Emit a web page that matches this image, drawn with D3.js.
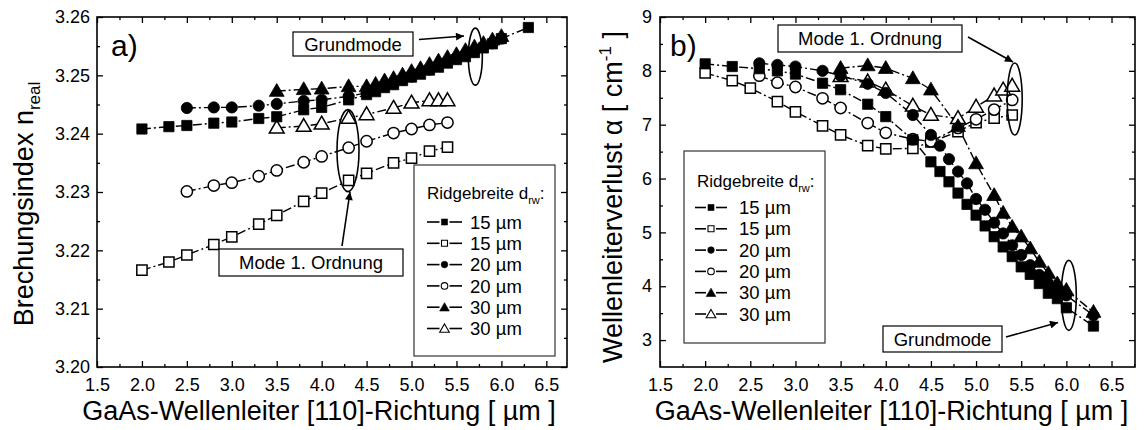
<!DOCTYPE html>
<html><head><meta charset="utf-8">
<script src="https://cdn.jsdelivr.net/npm/d3@7"></script>
<style>
body{margin:0;background:#fff}
svg{display:block}
text{font-family:"Liberation Sans",Arial,Helvetica,sans-serif;fill:#000}
</style>
</head><body>
<svg id="c" width="1148" height="430"></svg>
<script>
// ---------------- data ----------------
const xTickValues = [1.5, 2.0, 2.5, 3.0, 3.5, 4.0, 4.5, 5.0, 5.5, 6.0, 6.5];
const xMinorTicks = [1.75, 2.25, 2.75, 3.25, 3.75, 4.25, 4.75, 5.25, 5.75, 6.25, 6.75];
const nTickValues = [3.20, 3.21, 3.22, 3.23, 3.24, 3.25, 3.26];
const nMinorTicks = [3.205, 3.215, 3.225, 3.235, 3.245, 3.255];
const aTickValues = [3, 4, 5, 6, 7, 8, 9];
const aMinorTicks = [3.5, 4.5, 5.5, 6.5, 7.5, 8.5];
const legendLabels = ["15 µm", "15 µm", "20 µm", "20 µm", "30 µm", "30 µm"];

// panel a) : real refractive index
const nSq15X = [2.0,2.3,2.5,2.8,3.0,3.3,3.5,3.8,4.0,4.3,4.5,4.6,4.7,4.8,4.9,5.0,5.1,5.2,5.3,5.4,5.5,5.6,5.7,5.8,5.9,6.0,6.3];
const nSq15Y = [3.2408,3.2412,3.2414,3.2418,3.2420,3.2426,3.2429,3.2441,3.2445,3.2458,3.2467,3.2472,3.2479,3.2484,3.2491,3.2497,3.2502,3.2509,3.2514,3.2521,3.2527,3.2532,3.2539,3.2547,3.2554,3.2563,3.2582];
const nSqO15X = [2.0,2.3,2.5,2.8,3.0,3.3,3.5,3.8,4.0,4.3,4.5,4.8,5.0,5.2,5.4];
const nSqO15Y = [3.2166,3.2180,3.2192,3.2210,3.2223,3.2245,3.2260,3.2284,3.2298,3.2320,3.2332,3.2350,3.2358,3.2370,3.2377];
const nCi20X = [2.5,2.8,3.0,3.3,3.5,3.8,4.0,4.3,4.5,4.6,4.7,4.8,4.9,5.0,5.1,5.2,5.3,5.4,5.5,5.6,5.7,5.8,5.9,6.0];
const nCi20Y = [3.2444,3.2445,3.2445,3.2448,3.2451,3.2456,3.2458,3.2464,3.2470,3.2475,3.2481,3.2486,3.2493,3.2498,3.2505,3.2510,3.2517,3.2523,3.2529,3.2535,3.2541,3.2549,3.2555,3.2563];
const nCiO20X = [2.5,2.8,3.0,3.3,3.5,3.8,4.0,4.3,4.5,4.8,5.0,5.2,5.4];
const nCiO20Y = [3.2301,3.2311,3.2316,3.2327,3.2337,3.2351,3.2361,3.2376,3.2387,3.2401,3.2408,3.2415,3.2419];
const nTr30X = [3.5,3.8,4.0,4.3,4.5,4.6,4.7,4.8,4.9,5.0,5.1,5.2,5.3,5.4,5.5,5.6,5.7,5.8,5.9,6.0];
const nTr30Y = [3.2473,3.2476,3.2477,3.2481,3.2481,3.2485,3.2491,3.2495,3.2501,3.2507,3.2512,3.2519,3.2525,3.2531,3.2536,3.2543,3.2549,3.2555,3.2561,3.2567];
const nTrO30X = [3.5,3.8,4.0,4.3,4.5,4.8,5.0,5.2,5.3,5.4];
const nTrO30Y = [3.2410,3.2413,3.2417,3.2427,3.2433,3.2444,3.2453,3.2457,3.2457,3.2457];

// panel b) : waveguide loss alpha
const aSq15X = [2.0,2.3,2.6,2.8,3.0,3.3,3.5,3.8,4.0,4.3,4.5,4.6,4.7,4.8,4.9,5.0,5.1,5.2,5.3,5.4,5.5,5.6,5.7,5.8,5.9,6.0,6.3];
const aSq15Y = [8.13,8.08,8.04,8.00,7.94,7.77,7.65,7.38,7.15,6.72,6.31,6.13,5.94,5.73,5.52,5.32,5.12,4.92,4.73,4.55,4.36,4.22,4.05,3.87,3.77,3.60,3.26];
const aSqO15X = [2.0,2.3,2.5,2.8,3.0,3.3,3.5,3.8,4.0,4.3,4.5,4.8,5.0,5.2,5.4];
const aSqO15Y = [7.96,7.82,7.68,7.43,7.24,6.98,6.81,6.61,6.55,6.56,6.68,6.87,7.04,7.12,7.18];
const aCi20X = [2.6,2.8,3.0,3.3,3.5,3.8,4.0,4.3,4.5,4.6,4.7,4.8,4.9,5.0,5.1,5.2,5.3,5.4,5.5,5.6,5.7,5.8,5.9,6.0,6.3];
const aCi20Y = [8.14,8.11,8.08,8.00,7.91,7.76,7.59,7.18,6.81,6.61,6.36,6.13,5.91,5.62,5.42,5.18,4.98,4.76,4.58,4.39,4.21,4.05,3.93,3.83,3.46];
const aCiO20X = [2.6,2.8,3.0,3.3,3.5,3.8,4.0,4.3,4.5,4.8,5.0,5.2,5.4];
const aCiO20Y = [7.91,7.78,7.70,7.49,7.31,7.03,6.85,6.73,6.69,6.94,7.10,7.28,7.46];
const aTr30X = [3.5,3.8,4.0,4.3,4.5,4.8,5.0,5.2,5.3,5.4,5.5,5.6,5.7,5.8,5.9,6.0,6.3];
const aTr30Y = [8.05,8.10,8.05,7.86,7.65,6.97,6.28,5.69,5.36,5.10,4.92,4.70,4.45,4.24,4.05,3.93,3.52];
const aTrO30X = [3.5,3.8,4.0,4.3,4.5,4.8,5.0,5.2,5.3,5.4];
const aTrO30Y = [7.90,7.80,7.65,7.35,7.18,7.12,7.33,7.54,7.65,7.72];

// ---------------- drawing ----------------
const svg = d3.select("#c");
const FONT = '"Liberation Sans",Arial,Helvetica,sans-serif';

const defs = svg.append("defs");
defs.append("marker").attr("id","arr").attr("viewBox","0 0 10 10")
  .attr("refX",10).attr("refY",5).attr("markerWidth",12).attr("markerHeight",8)
  .attr("markerUnits","userSpaceOnUse").attr("orient","auto")
  .append("path").attr("d","M0,0 L10,5 L0,10 Z").attr("fill","#000");

const symType = {sq: d3.symbolSquare, ci: d3.symbolCircle, tr: d3.symbolTriangle};
const symSize = {sq: 105, ci: 100, tr: 95};
const legSize = {sq: 36, ci: 34, tr: 40};

function makeSeries(X, Y, shape, filled){ return {pts: X.map((x,i)=>[x, Y[i]]), shape, filled}; }

function drawPanel(cfg){
  const g = svg.append("g");
  const x = d3.scaleLinear().domain(cfg.xDomain).range(cfg.xRange);
  const y = d3.scaleLinear().domain(cfg.yDomain).range(cfg.yRange);
  const [x0,x1] = cfg.xRange, [y0,y1] = [cfg.yRange[1], cfg.yRange[0]];

  function styleAxis(sel){
    sel.select(".domain").remove();
    sel.selectAll("line").attr("stroke","#000").attr("stroke-width",1.3);
    sel.attr("font-size",18).attr("font-family",FONT);
    sel.selectAll("text").attr("fill","#000");
  }
  const xm = xMinorTicks.filter(v=>v<cfg.xDomain[1]);
  g.append("g").attr("transform",`translate(0,${y1})`)
    .call(d3.axisBottom(x).tickValues(xTickValues).tickSizeInner(-6).tickSizeOuter(0).tickPadding(11).tickFormat(d3.format(".1f"))).call(styleAxis);
  g.append("g").attr("transform",`translate(0,${y1})`)
    .call(d3.axisBottom(x).tickValues(xm).tickSizeInner(-3).tickSizeOuter(0).tickFormat("")).call(styleAxis);
  g.append("g").attr("transform",`translate(0,${y0})`)
    .call(d3.axisTop(x).tickValues(xTickValues).tickSizeInner(-6).tickSizeOuter(0).tickFormat("")).call(styleAxis);
  g.append("g").attr("transform",`translate(0,${y0})`)
    .call(d3.axisTop(x).tickValues(xm).tickSizeInner(-3).tickSizeOuter(0).tickFormat("")).call(styleAxis);
  g.append("g").attr("transform",`translate(${x0},0)`)
    .call(d3.axisLeft(y).tickValues(cfg.yTicks).tickSizeInner(-6).tickSizeOuter(0).tickPadding(cfg.yPad).tickFormat(cfg.yFmt)).call(styleAxis);
  g.append("g").attr("transform",`translate(${x0},0)`)
    .call(d3.axisLeft(y).tickValues(cfg.yMinor).tickSizeInner(-3).tickSizeOuter(0).tickFormat("")).call(styleAxis);
  g.append("g").attr("transform",`translate(${x1},0)`)
    .call(d3.axisRight(y).tickValues(cfg.yTicks).tickSizeInner(-6).tickSizeOuter(0).tickFormat("")).call(styleAxis);
  g.append("g").attr("transform",`translate(${x1},0)`)
    .call(d3.axisRight(y).tickValues(cfg.yMinor).tickSizeInner(-3).tickSizeOuter(0).tickFormat("")).call(styleAxis);

  g.append("rect").attr("x",x0).attr("y",y0).attr("width",x1-x0).attr("height",y1-y0)
    .attr("fill","none").attr("stroke","#000").attr("stroke-width",1.6);

  const line = d3.line().x(d=>x(d[0])).y(d=>y(d[1]));
  cfg.series.forEach(s=>{
    g.append("path").datum(s.pts).attr("d",line).attr("fill","none")
      .attr("stroke","#000").attr("stroke-width",1.4).attr("stroke-dasharray","9,3,2,3");
  });
  cfg.series.forEach(s=>{
    g.append("g").selectAll("path").data(s.pts).join("path")
      .attr("transform",d=>`translate(${x(d[0])},${y(d[1]) + (s.shape==="tr"?1:0)})`)
      .attr("d",d3.symbol().type(symType[s.shape]).size(symSize[s.shape]))
      .attr("fill",s.filled?"#000":"#fff").attr("stroke","#000").attr("stroke-width",s.filled?0.8:1.5);
  });

  g.append("text").attr("x",cfg.label[1]).attr("y",cfg.label[2]).attr("font-size",30).text(cfg.label[0]);

  g.append("text").attr("x",(x0+x1)/2 + cfg.xTitleDx).attr("y",420).attr("text-anchor","middle")
    .attr("font-size",27).text("GaAs-Wellenleiter [110]-Richtung [ µm ]");
  const yt = g.append("text").attr("transform",`translate(${cfg.yTitleX},${cfg.yTitleY}) rotate(-90)`)
    .attr("text-anchor","middle").attr("font-size",27);
  cfg.yTitle(yt);

  const L = cfg.legend;
  g.append("rect").attr("x",L.x).attr("y",L.y).attr("width",L.w).attr("height",L.h)
    .attr("fill","#fff").attr("stroke","#333").attr("stroke-width",1.2);
  const lt = g.append("text").attr("x",L.tx).attr("y",L.ty).attr("font-size",17);
  lt.append("tspan").text("Ridgebreite d");
  lt.append("tspan").attr("font-size",11).attr("dy",5).text("rw");
  lt.append("tspan").attr("dy",-5).text(":");
  const legendShapes = [["sq",true],["sq",false],["ci",true],["ci",false],["tr",true],["tr",false]];
  legendShapes.forEach((sh,i)=>{
    const yy = L.iy + i*L.step;
    const mx = (L.lx0+L.lx1)/2;
    g.append("line").attr("x1",L.lx0).attr("x2",mx-5).attr("y1",yy).attr("y2",yy)
      .attr("stroke","#000").attr("stroke-width",1.6);
    g.append("line").attr("x1",mx+5).attr("x2",L.lx1).attr("y1",yy).attr("y2",yy)
      .attr("stroke","#000").attr("stroke-width",1.6);
    g.append("path").attr("transform",`translate(${mx},${yy + (sh[0]==="tr"?1:0)})`)
      .attr("d",d3.symbol().type(symType[sh[0]]).size(legSize[sh[0]]))
      .attr("fill",sh[1]?"#000":"#fff").attr("stroke","#000").attr("stroke-width",sh[1]?0.6:1.1);
    g.append("text").attr("x",L.textX).attr("y",yy).attr("dy","0.36em").attr("font-size",18.5).text(legendLabels[i]);
  });

  cfg.notes.forEach(n=>{
    g.append("rect").attr("x",n.box[0]).attr("y",n.box[1]).attr("width",n.box[2]).attr("height",n.box[3])
      .attr("fill","#fff").attr("stroke","#000").attr("stroke-width",1.2);
    g.append("text").attr("x",n.box[0]+n.box[2]/2).attr("y",n.box[1]+n.box[3]/2).attr("dy","0.36em")
      .attr("text-anchor","middle").attr("font-size",18.5).text(n.text);
    g.append("line").attr("x1",n.arrow[0]).attr("y1",n.arrow[1]).attr("x2",n.arrow[2]).attr("y2",n.arrow[3])
      .attr("stroke","#000").attr("stroke-width",1.6).attr("marker-end","url(#arr)");
    g.append("ellipse").attr("cx",x(n.ell[0])).attr("cy",y(n.ell[1])).attr("rx",n.ell[2]).attr("ry",n.ell[3])
      .attr("fill","none").attr("stroke","#000").attr("stroke-width",1.6);
  });
}

drawPanel({
  xDomain:[1.5,6.73], xRange:[97,567], yDomain:[3.20,3.26], yRange:[367,17],
  yTicks:nTickValues, yMinor:nMinorTicks, yPad:7, yFmt:d3.format(".2f"),
  label:["a)",111,56], xTitleDx:-13,
  yTitleX:33, yTitleY:204,
  yTitle: t=>{ t.append("tspan").text("Brechungsindex n"); t.append("tspan").attr("font-size",17).attr("dy",7).text("real"); },
  series:[
    makeSeries(nSqO15X,nSqO15Y,"sq",false), makeSeries(nCiO20X,nCiO20Y,"ci",false), makeSeries(nTrO30X,nTrO30Y,"tr",false),
    makeSeries(nSq15X,nSq15Y,"sq",true), makeSeries(nCi20X,nCi20Y,"ci",true), makeSeries(nTr30X,nTr30Y,"tr",true)
  ],
  legend:{x:414,y:165,w:141,h:191,tx:427,ty:199,iy:222,step:21.3,lx0:427,lx1:462,textX:470},
  notes:[
    {box:[293,32,120,24], text:"Grundmode", arrow:[419,39.5,464,36], ell:[5.71,3.2532,7,28.5]},
    {box:[219,249,184,27], text:"Mode 1. Ordnung", arrow:[342,246,350,192], ell:[4.293,3.2371,11,41]}
  ]
});

drawPanel({
  xDomain:[1.5,6.76], xRange:[660,1135], yDomain:[2.5,9], yRange:[367,17],
  yTicks:aTickValues, yMinor:aMinorTicks, yPad:8, yFmt:d3.format("d"),
  label:["b)",670,56], xTitleDx:-6,
  yTitleX:622, yTitleY:197,
  yTitle: t=>{ t.append("tspan").text("Wellenleiterverlust α [ cm"); t.append("tspan").attr("font-size",17).attr("dy",-11).text("-1"); t.append("tspan").attr("dy",11).text(" ]"); },
  series:[
    makeSeries(aSqO15X,aSqO15Y,"sq",false), makeSeries(aCiO20X,aCiO20Y,"ci",false), makeSeries(aTrO30X,aTrO30Y,"tr",false),
    makeSeries(aSq15X,aSq15Y,"sq",true), makeSeries(aCi20X,aCi20Y,"ci",true), makeSeries(aTr30X,aTr30Y,"tr",true)
  ],
  legend:{x:684,y:151,w:141,h:192,tx:697,ty:187,iy:207.5,step:21.3,lx0:695,lx1:727,textX:739},
  notes:[
    {box:[778,25,184,27], text:"Mode 1. Ordnung", arrow:[968,37,1013,62], ell:[5.428,7.477,7.5,36]},
    {box:[883,326,119,26], text:"Grundmode", arrow:[1006,337,1058,322.5], ell:[6.027,3.83,7.5,35]}
  ]
});
</script>
</body></html>
